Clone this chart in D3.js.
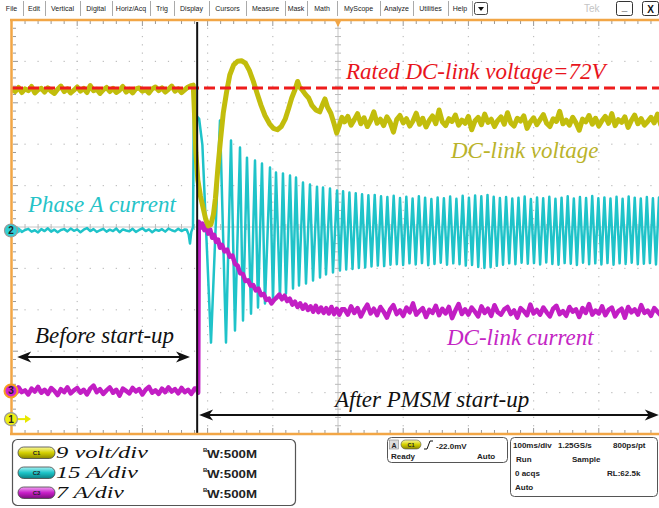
<!DOCTYPE html>
<html lang="en">
<head>
<meta charset="UTF-8" />
<title>PMSM start-up — scope capture</title>
<script src="https://d3js.org/d3.v7.min.js"></script>
<style>
  html, body { margin: 0; padding: 0; background: #fff; }
  svg { display: block; }
  .menu { font-family: "Liberation Sans", Arial, sans-serif; font-size: 7px; fill: #222; }
  .note { font-family: "Liberation Serif", "Times New Roman", serif; font-style: italic; font-size: 23px; }
  .readout { font-family: "Liberation Sans", Arial, sans-serif; font-size: 8px; font-weight: bold; fill: #222; }
  .scale-label { font-family: "Liberation Serif", "Times New Roman", serif; font-style: italic; font-size: 17px; fill: #111; }
</style>
</head>
<body>
<svg id="scope" width="659" height="508"></svg>
<script>
const menuItems = ["File", "Edit", "Vertical", "Digital", "Horiz/Acq", "Trig", "Display", "Cursors",
  "Measure", "Mask", "Math", "MyScope", "Analyze", "Utilities", "Help"];

const timeSpanMs = [0, 1000];          // 100 ms/div, 10 div
const startupMs = 284;                 // black marker line
const ratedVoltage = 72;
const beforeSpanMs = [8, 273];
const afterSpanMs = [287, 992];

const channelIds = ["C1", "C2", "C3"];
const unitsPerDiv = [9, 15, 7];
const scaleLabels = ["9 volt/div", "15 A/div", "7 A/div"];
const bwLabels = ["W:500M", "W:500M", "W:500M"];

const noteTexts = ["Rated DC-link voltage=72V", "DC-link voltage", "Phase A current",
  "Before start-up", "DC-link current", "After PMSM start-up"];

const triggerReadout = ["-22.0mV", "Ready", "Auto"];
const timebaseReadout = [["100ms/div", "1.25GS/s", "800ps/pt"], ["Run", "Sample"], ["0 acqs", "RL:62.5k"], ["Auto"]];

// noisy stretches are read every 5 ms
const sampleStepMs = 5;

// C1 DC-link voltage (V)
const dcVoltBefore = [ // t = 0..275
  71.6,71.2,72.1,71.0,71.8,71.4,72.3,70.9,71.6,71.9,
  71.1,72.0,71.3,70.8,71.7,72.4,71.2,71.8,70.9,71.5,
  72.2,71.3,71.9,71.0,72.5,71.4,71.7,70.8,71.6,72.1,
  71.2,71.9,71.0,71.5,72.3,71.1,71.7,70.9,71.8,72.0,
  71.3,71.6,70.9,71.8,72.2,71.4,72.0,71.1,71.7,72.4,
  71.3,71.8,71.0,71.6,72.2,72.5];
const dcVoltStartup = [[278,72.6],[280,66],[282,58],[285,52],[289,48.5],[293,46],[297,43.5],[301,42],
  [305,42.3],[309,44.5],[312,48],[316,55],[320,61],[324,66.5],[329,71],[334,74.8],[340,77],[346,77.8],
  [352,77.9],[358,77.4],[364,75.8],[370,73.5],[376,70.8],[382,68.2],[388,66],[395,64.2],[401,63.2],
  [407,62.9],[413,63.6],[419,65.2],[424,67.4],[429,69.8],[434,71.6],[438,73.4],[441,72.2],[445,71.6],
  [450,70.6],[455,69.8],[460,68.2],[466,67.2],[472,66.8],[477,68.6],[480,69.6],[484,67.8],[489,66.5],
  [494,64.2],[498,62.2],[502,63.8],[506,65.6]];
const dcVoltAfter = [ // t = 510..1000
  64.6,65.8,63.9,65.1,66.4,64.2,65.5,63.6,64.9,66.8,
  64.3,65.2,63.8,65.7,64.5,62.4,65.1,66.0,64.4,65.3,
  63.7,64.8,66.5,64.1,65.4,63.5,64.9,65.9,64.2,67.2,
  64.6,63.8,65.3,64.7,66.1,63.9,65.0,64.3,65.8,62.9,
  64.8,65.6,64.0,66.3,64.5,65.2,63.6,64.9,65.7,64.1,
  66.6,64.4,63.7,65.4,64.8,65.9,63.2,64.6,65.5,64.0,
  65.1,66.2,64.3,63.6,65.3,64.7,66.9,64.2,65.0,63.9,
  65.6,64.4,62.8,65.2,64.6,66.0,64.1,65.4,63.7,64.9,
  65.8,64.3,66.4,63.8,65.1,64.5,65.7,63.4,64.9,66.1,
  64.2,65.3,63.9,64.7,65.6,64.4,66.3,64.0,65.0];

// C2 phase A current (A)
const phaseABefore = [ // t = 0..265
  0.4,-0.3,0.7,-0.5,0.2,0.6,-0.4,0.1,-0.7,0.5,
  -0.2,0.8,-0.4,0.3,-0.6,0.2,0.5,-0.3,0.7,-0.1,
  0.4,-0.6,0.3,0.9,-0.2,0.5,-0.5,0.1,0.6,-0.4,
  0.3,-0.2,0.7,-0.6,0.4,0.0,-0.3,0.6,-0.5,0.2,
  0.8,-0.2,0.4,-0.6,0.3,-0.1,0.5,-0.4,0.7,0.1,
  -0.3,0.6,-0.2,0.4];
const phaseAStartup = [[268,0.3],[271,-1.5],[273,-4.7],[275,-0.5],[277.6,1.2],[278.8,42.4],[283,41.5],
  [287,40.5],[292,31],[305.2,-40.6],[319,39.9],[328.2,-40.6],[335.9,32.6],[342,-36.2],[349.7,30.1],
  [354.3,-32.6],[360.4,26.4],[366.6,-30.1],[372.7,25.4],[377.3,-27.9],[383.4,24.3],[388,-26.4],
  [395.7,22.8],[400.3,-25.4],[404.9,21.0],[411,-24.3],[415.6,20.7],[420.2,-22.8],[426.4,19.9],
  [431,-21.0],[435.6,19.2],[440.2,-19.9],[446.3,17.4],[450.9,-19.2],[457,16.7],[461.7,-18.1],
  [467.8,15.9],[472.4,-17.0],[477,15.6],[481.6,-15.9],[487.7,15.2],[492.3,-15.2],[498.5,14.5],[503,-14.5]];
const phaseASteady = [[507.8,14.2],[512.6,-14.1],[517.5,13.8],[522.3,-13.9],[527.2,13.5],[532,-13.6],
  [536.9,13.1],[541.7,-13.4],[546.6,12.8],[551.4,-13.0],[556.3,12.9],[561.1,-12.7],[566,12.4],[570.8,-12.9],
  [575.7,12.1],[580.5,-12.4],[585.4,12.6],[590.2,-12.2],[595.1,11.8],[599.9,-12.5],[604.8,12.2],[609.6,-11.9],
  [614.4,11.6],[619.2,-12.3],[624,12.4],[628.8,-11.8],[633.6,11.9],[638.4,-12.6],[643.2,11.4],[648,-12.1],
  [652.8,12.0],[657.6,-11.7],[662.4,11.7],[667.2,-12.4],[672,12.3],[676.8,-11.9],[681.6,11.5],[686.4,-12.2],
  [691.2,12.6],[696,-12.7],[700.8,11.9],[705.6,-12.5],[710.3,12.7],[715.1,-13.2],[719.8,12.4],[724.6,-13.6],
  [729.3,12.9],[734.1,-13.3],[738.8,12.2],[743.6,-12.8],[748.3,11.8],[753.1,-12.4],[757.8,12.1],[762.6,-11.9],
  [767.3,11.6],[772.1,-12.2],[776.8,11.9],[781.6,-11.7],[786.3,12.3],[791.1,-12.0],[795.8,11.4],[800.6,-11.8],
  [805.3,12.0],[810,-12.3],[814.7,11.7],[819.4,-11.6],[824.1,12.2],[828.8,-12.1],[833.5,11.5],[838.2,-12.4],
  [842.9,11.9],[847.6,-11.8],[852.3,12.4],[857,-12.0],[861.7,11.6],[866.4,-12.5],[871.1,12.1],[875.8,-11.7],
  [880.5,11.8],[885.2,-12.2],[889.9,12.5],[894.6,-11.9],[899.3,11.7],[904,-12.3],[908.6,12.0],[913.3,-11.8],
  [917.9,11.6],[922.6,-12.4],[927.2,12.2],[931.9,-11.9],[936.5,11.5],[941.2,-12.1],[945.8,12.3],[950.5,-11.7],
  [955.1,11.9],[959.8,-12.2],[964.4,11.6],[969.1,-12.0],[973.7,12.1],[978.4,-11.8],[983,11.7],[987.7,-12.3],
  [992.3,12.0],[997,-11.9],[1001.6,11.8]];

// C3 DC-link current (A)
const dcCurrBefore = [ // t = 0..280
  0.3,-0.4,0.6,-0.2,0.1,-0.6,0.4,-0.1,0.7,-0.3,
  0.2,-0.5,0.5,0.0,-0.7,0.3,-0.2,0.6,-0.4,0.1,
  0.5,-0.3,0.2,-0.6,0.4,0.9,-0.2,0.3,-0.5,0.1,
  0.6,-0.3,0.2,-0.8,0.4,0.0,-0.4,0.5,-0.1,0.3,
  -0.6,0.2,0.7,-0.3,0.1,-0.5,0.4,-0.2,0.6,-0.1,
  0.3,-0.4,0.5,-0.2,0.2,-0.5,0.4];
const dcCurrStartup = [[284,0.4],[285.5,-0.3],[286.5,28.6],[289,27.6],[292,28.3],[295,27.2],[298,27.9],
  [301,26.6],[304,27.3],[307,25.9],[310,26.4],[313,25.2],[316,25.6],[319,24.2],[322,24.7],[326,23.6],
  [330,23.9],[334,22.7],[338,22.9],[342,21.5],[346,21.2],[350,19.9],[354,19.8],[358,18.6],[362,18.7],
  [366,17.8],[370,17.9],[374,17.0],[378,17.3],[382,16.2],[386,16.4],[390,15.4],[394,15.6],[398,14.8],
  [402,15.4],[406,15.8],[410,16.3],[414,15.5],[418,16.1],[422,15.2],[426,15.6],[430,14.6],[434,15.1],
  [438,14.2],[442,14.8],[446,13.9],[450,14.6],[454,13.7],[458,14.3],[462,13.4],[466,14.4],[470,13.3],
  [474,14.1],[478,13.2],[482,14.0],[486,13.1],[490,14.2],[494,13.0],[498,13.9],[502,12.9],[506,13.8]];
const dcCurrAfter = [ // t = 510..1000
  13.8,12.9,14.3,13.2,14.0,12.6,13.7,14.6,13.1,13.9,
  12.8,14.2,13.4,12.4,13.8,14.5,13.0,13.6,12.7,14.1,
  13.3,14.8,12.9,13.5,14.0,12.5,13.7,13.2,14.4,12.8,
  13.9,13.1,14.2,12.3,13.6,14.7,13.0,13.8,12.9,14.1,
  13.4,12.6,14.3,13.2,13.9,12.7,14.5,13.3,12.9,13.8,
  14.2,13.0,13.6,12.4,14.0,13.5,12.8,14.6,13.1,13.7,
  12.9,14.1,13.3,12.6,13.9,14.4,13.0,13.5,12.7,14.2,
  13.4,13.8,12.5,14.0,13.2,14.7,12.9,13.6,13.1,14.3,
  12.8,13.7,14.1,12.6,13.5,13.9,12.4,14.2,13.3,13.8,
  12.9,14.5,13.2,13.6,12.7,14.0,13.4,12.8,13.9];

// ---- layout ----
const sampled = (vals, t0) => vals.map((v, i) => [t0 + i * sampleStepMs, v]);
const traces = [
  sampled(dcVoltBefore, 0).concat(dcVoltStartup, sampled(dcVoltAfter, 510)),
  sampled(phaseABefore, 0).concat(phaseAStartup, phaseASteady),
  sampled(dcCurrBefore, 0).concat(dcCurrStartup, sampled(dcCurrAfter, 510))
];

const traceColors = ["#c2bd0c", "#1fc3c9", "#c21ec4"];
const markerFills = ["#eeee10", "#2fd0d4", "#d020d0"];
const orange = "#f2a646";

const svg = d3.select("#scope");
const X0 = 12, Y0 = 20, DIV_W = 65.2, DIV_H = 41.4;
const X1 = X0 + 10 * DIV_W, Y1 = Y0 + 10 * DIV_H;
const x = d3.scaleLinear().domain(timeSpanMs).range([X0, X1]);
const yDiv = d3.scaleLinear().domain([5, -5]).range([Y0, Y1]);
const groundDiv = [-4.64, -0.085, -3.96];
const chY = i => v => yDiv(groundDiv[i] + v / unitsPerDiv[i]);

svg.append("rect").attr("width", 659).attr("height", 508).attr("fill", "#fff");

// ---- menu bar ----
const menuSeps = [23, 45, 80, 112, 150, 174, 209, 246, 285, 307, 337, 380, 413, 448, 472];
const menu = svg.append("g");
menu.selectAll("line").data(menuSeps).enter().append("line")
  .attr("x1", d => d + 0.5).attr("x2", d => d + 0.5).attr("y1", 1).attr("y2", 16)
  .attr("stroke", "#aaa");
menu.selectAll("text").data(menuItems).enter().append("text")
  .attr("class", "menu")
  .attr("x", (d, i) => ((i ? menuSeps[i - 1] : 0) + menuSeps[i]) / 2)
  .attr("y", 11).attr("text-anchor", "middle").text(d => d);
menu.append("rect").attr("x", 474.5).attr("y", 2.5).attr("width", 13).attr("height", 12).attr("rx", 2)
  .attr("fill", "#fff").attr("stroke", "#444");
menu.append("path").attr("d", "M478,7 L484,7 L481,11 Z").attr("fill", "#111");
menu.append("text").attr("x", 584).attr("y", 12).attr("fill", "#c4c4c4")
  .style("font", "10px 'Liberation Sans', Arial, sans-serif").text("Tek");
[[616.5, "_"], [642.5, "X"]].forEach(([bx, label]) => {
  menu.append("rect").attr("x", bx).attr("y", 1.5).attr("width", 16).attr("height", 14).attr("rx", 2)
    .attr("fill", "#fff").attr("stroke", "#333");
  menu.append("text").attr("x", bx + 8).attr("y", label === "_" ? 10 : 12.5).attr("text-anchor", "middle")
    .style("font", "bold 10px 'Liberation Sans', Arial, sans-serif").attr("fill", "#111").text(label);
});

// ---- graticule ----
const grid = svg.append("g");
const minorX = DIV_W / 5, minorY = DIV_H / 5;
d3.range(1, 10).filter(k => k !== 5).forEach(k => {
  const gx = X0 + k * DIV_W, gy = Y0 + k * DIV_H;
  d3.range(1, 50).forEach(j => {
    grid.append("rect").attr("x", gx - 0.6).attr("y", Y0 + j * minorY - 0.6).attr("width", 1.2).attr("height", 1.2).attr("fill", "#bdbdbd");
    grid.append("rect").attr("x", X0 + j * minorX - 0.6).attr("y", gy - 0.6).attr("width", 1.2).attr("height", 1.2).attr("fill", "#bdbdbd");
  });
});
const cx = X0 + 5 * DIV_W, cy = Y0 + 5 * DIV_H;
grid.append("line").attr("x1", cx).attr("x2", cx).attr("y1", Y0).attr("y2", Y1).attr("stroke", "#c6c6c6");
grid.append("line").attr("x1", X0).attr("x2", X1).attr("y1", cy).attr("y2", cy).attr("stroke", "#c6c6c6");
d3.range(1, 50).forEach(j => {
  const tx = X0 + j * minorX, ty = Y0 + j * minorY;
  grid.append("line").attr("x1", cx - 3).attr("x2", cx + 3).attr("y1", ty).attr("y2", ty).attr("stroke", "#bbb");
  grid.append("line").attr("x1", tx).attr("x2", tx).attr("y1", cy - 3).attr("y2", cy + 3).attr("stroke", "#bbb");
  grid.append("line").attr("x1", tx).attr("x2", tx).attr("y1", Y0 + 1).attr("y2", Y0 + (j % 5 ? 4 : 6)).attr("stroke", "#999");
  grid.append("line").attr("x1", tx).attr("x2", tx).attr("y1", Y1 - 1).attr("y2", Y1 - (j % 5 ? 4 : 6)).attr("stroke", "#999");
  grid.append("line").attr("x1", X0 + 1).attr("x2", X0 + (j % 5 ? 4 : 6)).attr("y1", ty).attr("y2", ty).attr("stroke", "#999");
});

// ---- traces ----
svg.append("clipPath").attr("id", "plot-clip").append("rect")
  .attr("x", X0).attr("y", Y0).attr("width", X1 - X0).attr("height", Y1 - Y0);
const plot = svg.append("g").attr("clip-path", "url(#plot-clip)");
const widths = [5, 2.5, 4.5];
[1, 2, 0].forEach(i => {
  const line = d3.line().x(d => x(d[0])).y(d => chY(i)(d[1]));
  plot.append("path").datum(traces[i]).attr("d", line)
    .attr("fill", "none").attr("stroke", traceColors[i]).attr("stroke-width", widths[i])
    .attr("stroke-linejoin", "round");
});

// rated voltage
const yRated = chY(0)(ratedVoltage);
plot.append("line").attr("x1", X0).attr("x2", X1).attr("y1", yRated).attr("y2", yRated)
  .attr("stroke", "#ee1c1c").attr("stroke-width", 3).attr("stroke-dasharray", "11,5");

// start-up marker
svg.append("line").attr("x1", x(startupMs)).attr("x2", x(startupMs)).attr("y1", Y0 + 2).attr("y2", Y1 + 1)
  .attr("stroke", "#111").attr("stroke-width", 2);

// ---- frame ----
svg.append("line").attr("x1", 10).attr("x2", 659).attr("y1", Y0).attr("y2", Y0).attr("stroke", orange).attr("stroke-width", 2.5);
svg.append("line").attr("x1", 10).attr("x2", 659).attr("y1", Y1).attr("y2", Y1).attr("stroke", orange).attr("stroke-width", 2.5);
svg.append("line").attr("x1", 11.5).attr("x2", 11.5).attr("y1", Y0).attr("y2", Y1).attr("stroke", orange).attr("stroke-width", 2.5);
svg.append("path").attr("d", `M${cx - 3.5},${Y0} L${cx + 3.5},${Y0} L${cx},${Y0 + 7} Z`).attr("fill", orange);

// channel ground markers
const mk = svg.append("g");
[1, 2, 0].forEach(i => {
  const gy = chY(i)(0);
  if (i === 0) {
    mk.append("line").attr("x1", 16).attr("x2", 27).attr("y1", gy).attr("y2", gy).attr("stroke", "#e8e800").attr("stroke-width", 2);
    mk.append("path").attr("d", `M31,${gy} L25,${gy - 4} L25,${gy + 4} Z`).attr("fill", "#e8e800");
  } else {
    mk.append("path").attr("d", `M16,${gy - 4} L23,${gy} L16,${gy + 4} Z`).attr("fill", markerFills[i]);
  }
  mk.append("circle").attr("cx", 11).attr("cy", gy).attr("r", 6.5)
    .attr("fill", markerFills[i]).attr("stroke", i === 2 ? "#f5a020" : "#999").attr("stroke-width", i === 2 ? 2 : 1.2);
  mk.append("text").attr("x", 11).attr("y", gy + 3.5).attr("text-anchor", "middle")
    .style("font", "bold 10px 'Liberation Sans', Arial, sans-serif").attr("fill", "#222").text(i + 1);
});

// ---- annotations ----
const notePos = [[346, 79, "#e8141c"], [451, 158, "#bab32a"], [28, 212, "#25c3c8"],
  [35, 343, "#111"], [447, 345, "#c426c4"], [335, 407, "#111"]];
svg.selectAll("text.note").data(noteTexts).enter().append("text")
  .attr("class", "note").attr("x", (d, i) => notePos[i][0]).attr("y", (d, i) => notePos[i][1])
  .attr("fill", (d, i) => notePos[i][2]).text(d => d);

function arrowHead(xt, y, dir) {
  svg.append("path")
    .attr("d", `M${xt},${y} L${xt - dir * 14},${y - 5.5} L${xt - dir * 10},${y} L${xt - dir * 14},${y + 5.5} Z`)
    .attr("fill", "#111");
}
function spanArrow(span, y, heads) {
  const a = x(span[0]), b = x(span[1]);
  svg.append("line").attr("x1", a + 4).attr("x2", b - 4).attr("y1", y).attr("y2", y).attr("stroke", "#111").attr("stroke-width", 2);
  if (heads[0]) arrowHead(a, y, -1);
  if (heads[1]) arrowHead(b, y, 1);
}
spanArrow(beforeSpanMs, 357, [true, true]);
spanArrow(afterSpanMs, 415, [true, true]);

// ---- bottom readouts ----
const defs = svg.append("defs");
const pillStops = [["#fbf9a0", "#d4d000", "#8a8600"], ["#a8f2f4", "#1cc4c8", "#0d7f82"], ["#f3a3f3", "#c81ec8", "#7a0f7a"]];
pillStops.forEach((s, i) => {
  const g = defs.append("linearGradient").attr("id", "pill" + i).attr("x1", 0).attr("x2", 0).attr("y1", 0).attr("y2", 1);
  g.append("stop").attr("offset", "0%").attr("stop-color", s[0]);
  g.append("stop").attr("offset", "50%").attr("stop-color", s[1]);
  g.append("stop").attr("offset", "100%").attr("stop-color", s[2]);
});

const chBox = svg.append("g");
chBox.append("rect").attr("x", 12.5).attr("y", 439.5).attr("width", 283).attr("height", 66).attr("rx", 5)
  .attr("fill", "#fff").attr("stroke", "#555").attr("stroke-width", 1.2);
const rowBase = [457.5, 477.5, 497.5];
const labelWidths = [92, 82, 68];
channelIds.forEach((id, i) => {
  const by = rowBase[i];
  chBox.append("rect").attr("x", 18).attr("y", by - 10.5).attr("width", 37).attr("height", 11.5).attr("rx", 5.7)
    .attr("fill", `url(#pill${i})`).attr("stroke", "#444").attr("stroke-width", 0.8);
  chBox.append("text").attr("x", 36.5).attr("y", by - 2.3).attr("text-anchor", "middle")
    .style("font", "bold 6px 'Liberation Sans', Arial, sans-serif").attr("fill", "#222").text(id);
  chBox.append("text").attr("class", "scale-label").attr("x", 56).attr("y", by)
    .attr("textLength", labelWidths[i]).attr("lengthAdjust", "spacingAndGlyphs").text(scaleLabels[i]);
  chBox.append("text").attr("x", 203).attr("y", by - 6).style("font", "bold 6px 'Liberation Sans', Arial, sans-serif")
    .attr("fill", "#222").text("B");
  chBox.append("text").attr("x", 207).attr("y", by).attr("textLength", 50).attr("lengthAdjust", "spacingAndGlyphs")
    .style("font", "bold 10px 'Liberation Sans', Arial, sans-serif").attr("fill", "#222").text(bwLabels[i]);
});

// trigger box
const trg = svg.append("g");
trg.append("rect").attr("x", 387.5).attr("y", 437.5).attr("width", 120).attr("height", 25).attr("rx", 4)
  .attr("fill", "#fff").attr("stroke", "#555");
trg.append("rect").attr("x", 389.5).attr("y", 440).attr("width", 9).attr("height", 9).attr("fill", "#ddd").attr("stroke", "#888").attr("stroke-width", 0.6);
trg.append("text").attr("class", "readout").attr("x", 391.5).attr("y", 447.5).style("font-size", "7px").text("A");
trg.append("rect").attr("x", 401).attr("y", 440).attr("width", 20).attr("height", 9).attr("rx", 4.5)
  .attr("fill", "url(#pill0)").attr("stroke", "#555").attr("stroke-width", 0.6);
trg.append("text").attr("x", 411).attr("y", 447).attr("text-anchor", "middle")
  .style("font", "bold 5.5px 'Liberation Sans', Arial, sans-serif").attr("fill", "#222").text("C1");
trg.append("path").attr("d", "M424,449 L427,449 L430,441 L433,441").attr("fill", "none").attr("stroke", "#111").attr("stroke-width", 1);
trg.append("text").attr("class", "readout").attr("x", 436).attr("y", 448.5).text(triggerReadout[0]);
trg.append("text").attr("class", "readout").attr("x", 391).attr("y", 459).text(triggerReadout[1]);
trg.append("text").attr("class", "readout").attr("x", 477).attr("y", 459).text(triggerReadout[2]);

// timebase box
const tb = svg.append("g");
tb.append("rect").attr("x", 510.5).attr("y", 437.5).attr("width", 147).attr("height", 59).attr("rx", 4)
  .attr("fill", "#fff").attr("stroke", "#555");
const tbX = [[513, 558, 613], [516, 572], [515, 607], [515]];
const tbY = [448, 462, 476, 490];
timebaseReadout.forEach((row, r) => row.forEach((t, c) => {
  tb.append("text").attr("class", "readout").attr("x", tbX[r][c]).attr("y", tbY[r]).text(t);
}));
</script>
</body>
</html>
